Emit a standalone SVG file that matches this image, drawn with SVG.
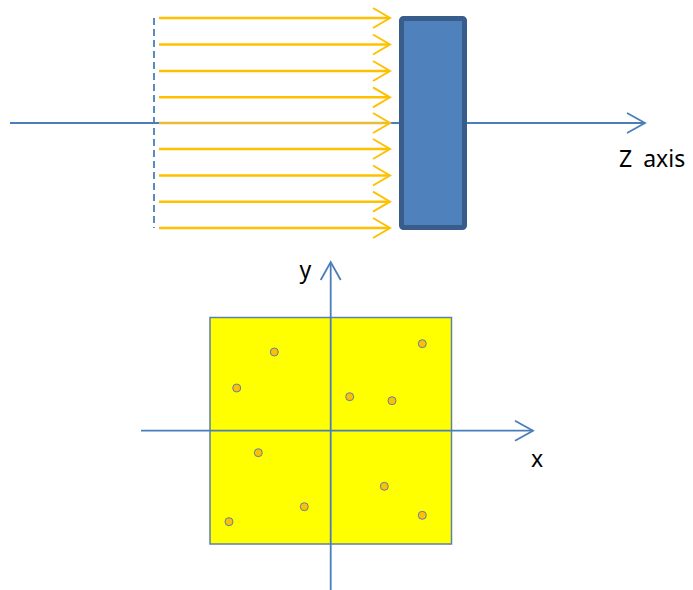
<svg xmlns="http://www.w3.org/2000/svg" width="693" height="590" viewBox="0 0 693 590">
<style>
.ax{stroke:#4A7EBB;stroke-width:1.8;fill:none}
.ray{stroke:#FFC000;stroke-width:2.5;fill:none}
.head{stroke:#FFC000;stroke-width:2;fill:none}
.axh{stroke:#4A7EBB;stroke-width:1.8;fill:none}
.dot{fill:#FFC000;stroke:#5B7FAF;stroke-width:1}
.lbl{font-family:"Noto Sans","Open Sans",sans-serif;font-size:23px;fill:#000}
</style>
<rect width="693" height="590" fill="#fff"/>
<g id="connectors">
<line class="ax" x1="10" y1="123" x2="645" y2="123"/>
<polyline class="axh" points="627,113 645,123 627,133"/>
<line x1="154" y1="18" x2="154" y2="228" stroke="#4A7EBB" stroke-width="1.8" stroke-dasharray="7,4"/>
<g id="rays">
<line class="ray" x1="159" y1="18" x2="389" y2="18"/><polyline class="head" points="373,8 390,18 373,28"/>
<line class="ray" x1="159" y1="44.5" x2="389" y2="44.5"/><polyline class="head" points="373,34.5 390,44.5 373,54.5"/>
<line class="ray" x1="159" y1="71" x2="389" y2="71"/><polyline class="head" points="373,61 390,71 373,81"/>
<line class="ray" x1="159" y1="97.3" x2="389" y2="97.3"/><polyline class="head" points="373,87.3 390,97.3 373,107.3"/>
<line x1="159" y1="123" x2="389" y2="123" stroke="#E6BE3A" stroke-width="2.5"/><polyline class="head" points="373,113 390,123 373,133"/>
<line class="ray" x1="159" y1="149" x2="389" y2="149"/><polyline class="head" points="373,139 390,149 373,159"/>
<line class="ray" x1="159" y1="175.5" x2="389" y2="175.5"/><polyline class="head" points="373,165.5 390,175.5 373,185.5"/>
<line class="ray" x1="159" y1="201.7" x2="389" y2="201.7"/><polyline class="head" points="373,191.7 390,201.7 373,211.7"/>
<line class="ray" x1="159" y1="228" x2="389" y2="228"/><polyline class="head" points="373,218 390,228 373,238"/>
</g>
</g>
<g id="plate">
<rect x="401.5" y="18.5" width="63" height="209" rx="2" fill="#4F81BD" stroke="#385D8A" stroke-width="5"/>
</g>
<text class="lbl" x="619" y="166.7" style="word-spacing:5px">Z axis</text>
<g id="plane">
<rect x="210" y="317.5" width="241.5" height="226.5" fill="#FFFF00" stroke="#5B7FAF" stroke-width="1.5"/>
</g>
<g id="axes">
<line class="ax" x1="141" y1="430.7" x2="533" y2="430.7"/>
<polyline class="axh" points="515,420.7 533,430.7 515,440.7"/>
<line class="ax" x1="330.7" y1="590" x2="330.7" y2="263"/>
<polyline class="axh" points="320.7,280 330.7,262 340.7,280"/>
</g>
<text class="lbl" x="299.5" y="278">y</text>
<text class="lbl" x="531" y="466.7">x</text>
<g id="points">
<circle class="dot" cx="274.3" cy="352" r="4"/>
<circle class="dot" cx="236.7" cy="388" r="4"/>
<circle class="dot" cx="349.7" cy="396.7" r="4"/>
<circle class="dot" cx="392" cy="400.7" r="4"/>
<circle class="dot" cx="422.3" cy="343.7" r="4"/>
<circle class="dot" cx="258.3" cy="452.7" r="4"/>
<circle class="dot" cx="384.3" cy="486.3" r="4"/>
<circle class="dot" cx="304.3" cy="506.7" r="4"/>
<circle class="dot" cx="229" cy="521.7" r="4"/>
<circle class="dot" cx="422.3" cy="515.3" r="4"/>
</g>
</svg>
